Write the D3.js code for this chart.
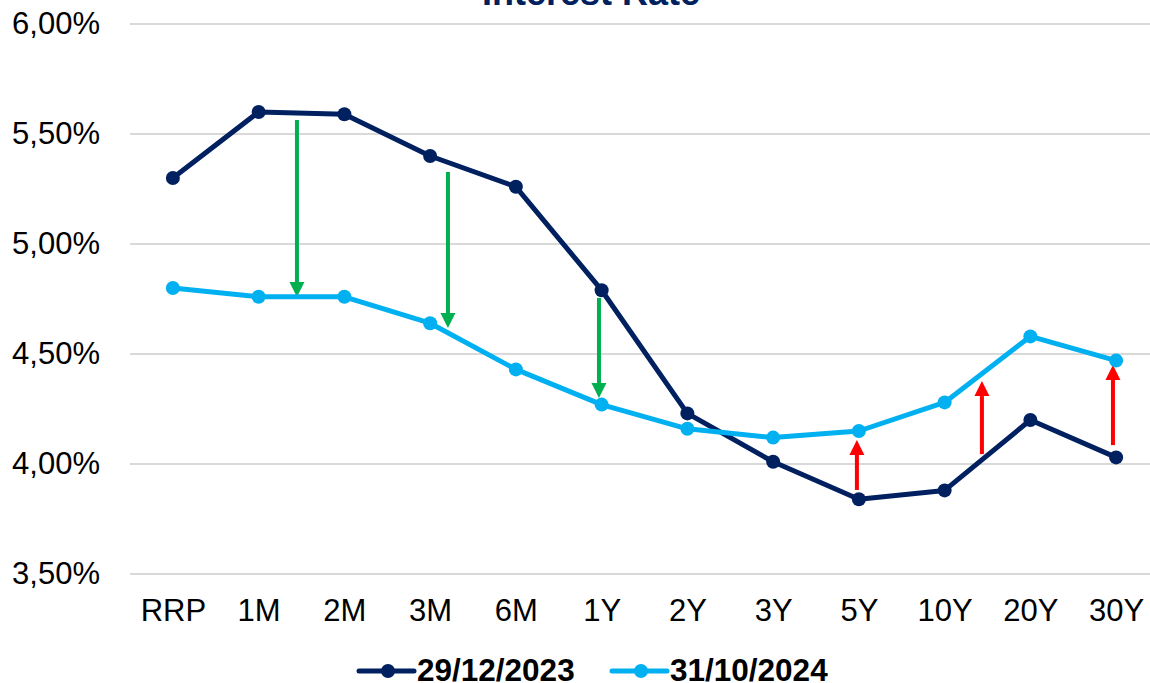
<!DOCTYPE html>
<html lang="en">
  <head>
    <meta charset="utf-8">
    <title>Interest Rate</title>
    <style>
      html, body {
        margin: 0;
        padding: 0;
        background: #fff;
      }
      svg {
        display: block;
        font-family: "Liberation Sans", Arial, sans-serif;
      }
    </style>
    <script src="https://d3js.org/d3.v7.min.js"></script>
  </head>
  <body>
    <svg id="chart" width="1150" height="683"></svg>
  </body>
  <script>
  // tenors on the x axis
  const tenors = ['RRP', '1M', '2M', '3M', '6M', '1Y', '2Y', '3Y', '5Y', '10Y', '20Y', '30Y'];
  // yields in %
  const dec2023 = [5.30, 5.60, 5.59, 5.40, 5.26, 4.79, 4.23, 4.01, 3.84, 3.88, 4.20, 4.03];
  const oct2024 = [4.80, 4.76, 4.76, 4.64, 4.43, 4.27, 4.16, 4.12, 4.15, 4.28, 4.58, 4.47];
  const seriesNames = ['29/12/2023', '31/10/2024'];
  const yTicks = [3.5, 4.0, 4.5, 5.0, 5.5, 6.0];

  // arrows: position in tenor index units, from / to in %
  const arrowPos  = [1.447, 3.208, 4.969, 7.977, 9.435, 10.963];
  const arrowFrom = [5.564, 5.327, 4.755, 3.882, 4.045, 4.086];
  const arrowTo   = [4.759, 4.618, 4.300, 4.109, 4.377, 4.450];

  const navy = '#002060';
  const sky = '#00b0f0';

  const svg = d3.select('#chart');
  const plot = { left: 130, right: 1159, top: 24, bottom: 574 };

  const x = d3.scalePoint().domain(tenors).range([plot.left, plot.right]).padding(0.5);
  const xIdx = d3.scaleLinear()
    .domain([0, tenors.length - 1])
    .range([x(tenors[0]), x(tenors[tenors.length - 1])]);
  const y = d3.scaleLinear().domain([3.5, 6.0]).range([plot.bottom, plot.top]);

  const fmt = v => d3.format('.2f')(v).replace('.', ',') + '%';

  // gridlines
  svg.append('g')
    .selectAll('line')
    .data(yTicks)
    .join('line')
    .attr('x1', plot.left).attr('x2', plot.right)
    .attr('y1', d => y(d)).attr('y2', d => y(d))
    .attr('stroke', '#d9d9d9')
    .attr('stroke-width', 2);

  // y axis labels
  const yAxis = svg.append('g')
    .attr('transform', `translate(${plot.left - 30},0)`)
    .call(d3.axisLeft(y).tickValues(yTicks).tickFormat(fmt).tickSize(0).tickPadding(0));
  yAxis.select('.domain').remove();
  yAxis.selectAll('text')
    .attr('font-size', 31)
    .attr('font-family', '"Liberation Sans", Arial, sans-serif')
    .attr('fill', '#000');

  // x axis labels
  const xAxis = svg.append('g')
    .attr('transform', `translate(0,${plot.bottom})`)
    .call(d3.axisBottom(x).tickSize(0).tickPadding(25));
  xAxis.select('.domain').remove();
  xAxis.selectAll('text')
    .attr('font-size', 31)
    .attr('font-family', '"Liberation Sans", Arial, sans-serif')
    .attr('fill', '#000');

  // title (cut off at the top in the original)
  svg.append('text')
    .attr('x', 591)
    .attr('y', 5)
    .attr('text-anchor', 'middle')
    .attr('font-size', 36)
    .attr('font-weight', 'bold')
    .attr('fill', navy)
    .text('Interest Rate');

  // arrows
  const arrows = arrowPos.map((p, i) => ({ p: p, from: arrowFrom[i], to: arrowTo[i] }));
  const arrowG = svg.append('g');
  arrows.forEach(a => {
    const ax = xIdx(a.p);
    const y0 = y(a.from), y1 = y(a.to);
    const dir = y1 > y0 ? 1 : -1;
    const colour = dir > 0 ? '#00b050' : '#ff0000';
    const headLen = 15, headHalf = 7.5;
    arrowG.append('line')
      .attr('x1', ax).attr('x2', ax)
      .attr('y1', y0).attr('y2', y1 - dir * headLen)
      .attr('stroke', colour)
      .attr('stroke-width', 4);
    arrowG.append('path')
      .attr('d', `M${ax - headHalf},${y1 - dir * headLen}L${ax + headHalf},${y1 - dir * headLen}L${ax},${y1}Z`)
      .attr('fill', colour);
  });

  // lines
  const line = d3.line().x((d, i) => x(tenors[i])).y(d => y(d));
  const series = [
    { name: seriesNames[0], values: dec2023, colour: navy },
    { name: seriesNames[1], values: oct2024, colour: sky }
  ];

  series.forEach(s => {
    const g = svg.append('g');
    g.append('path')
      .datum(s.values)
      .attr('d', line)
      .attr('fill', 'none')
      .attr('stroke', s.colour)
      .attr('stroke-width', 5)
      .attr('stroke-linejoin', 'round');
    g.selectAll('circle')
      .data(s.values)
      .join('circle')
      .attr('cx', (d, i) => x(tenors[i]))
      .attr('cy', d => y(d))
      .attr('r', 7)
      .attr('fill', s.colour);
  });

  // legend
  const legendX = [359, 612];
  const legend = svg.append('g');
  series.forEach((s, i) => {
    const lx = legendX[i], ly = 671;
    legend.append('line')
      .attr('x1', lx).attr('x2', lx + 55)
      .attr('y1', ly).attr('y2', ly)
      .attr('stroke', s.colour)
      .attr('stroke-width', 5)
      .attr('stroke-linecap', 'round');
    legend.append('circle')
      .attr('cx', lx + 29).attr('cy', ly)
      .attr('r', 7)
      .attr('fill', s.colour);
    legend.append('text')
      .attr('x', lx + 58)
      .attr('y', ly + 10)
      .attr('font-size', 31.5)
      .attr('font-weight', 'bold')
      .attr('fill', '#000')
      .text(s.name);
  });
  </script>
</html>
